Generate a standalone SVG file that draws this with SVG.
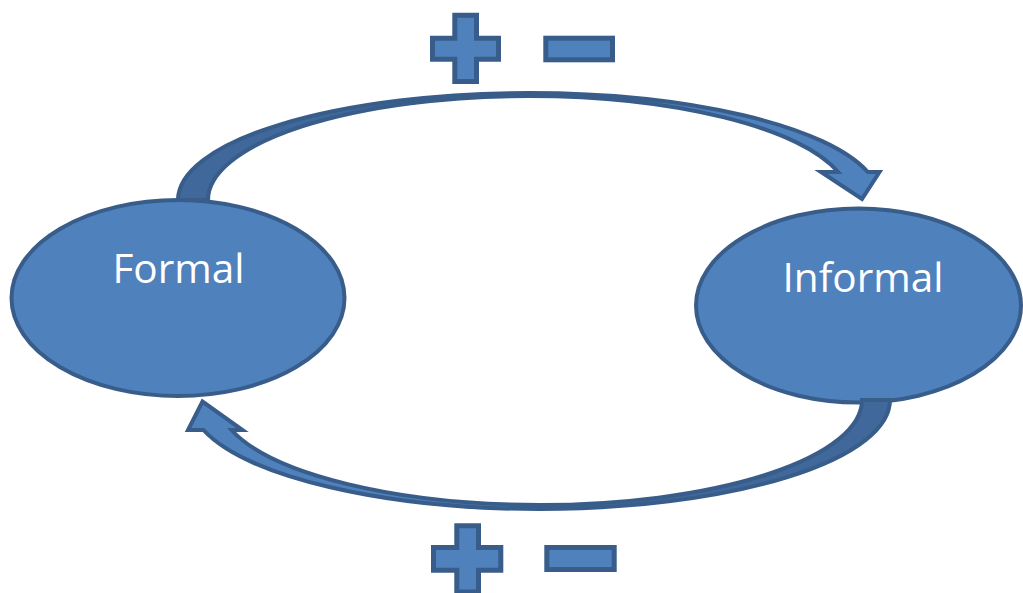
<svg xmlns="http://www.w3.org/2000/svg" width="1023" height="593" viewBox="0 0 1023 593">
  <style>
    .node { fill: #4F81BD; stroke: #385D8A; stroke-width: 4; }
    .back { fill: #40689A; stroke: #385D8A; stroke-width: 4; stroke-linejoin: miter; }
    .front { fill: #4F81BD; stroke: #385D8A; stroke-width: 4; stroke-linejoin: miter; }
    .sign { fill: #4F81BD; stroke: #385D8A; stroke-width: 5; }
    .label { font-family: "Open Sans", "Liberation Sans", sans-serif; font-size: 40.5px; fill: #FFFFFF; text-anchor: middle; }
  </style>
  <rect width="1023" height="593" fill="#FFFFFF"/>

  <g id="node-formal">
    <ellipse class="node" cx="178" cy="298" rx="166.5" ry="98"/>
    <text class="label" x="178.5" y="283">Formal</text>
  </g>

  <g id="node-informal">
    <ellipse class="node" cx="858.5" cy="305.5" rx="162.5" ry="97"/>
    <text class="label" x="863" y="291.5">Informal</text>
  </g>

  <g id="connectors">
    <g id="arrow-top">
      <path class="back" d="M 178,200 A 351 107 0 0 1 529,93 L 529,96 A 321 104 0 0 0 208,200 Z"/>
      <path class="front" d="M 529,93 A 351 107 0 0 1 867.8,172 L 879.5,172 L 862,199 L 821,172 L 838.1,172 A 321 104 0 0 0 529,96 Z"/>
    </g>
    <g id="arrow-bottom">
      <path class="back" d="M 890,400 A 350 109 0 0 1 540,509 L 540,505 A 322 105 0 0 0 862,400 Z"/>
      <path class="front" d="M 540,509 A 350 109 0 0 1 203.5,430 L 188,430 L 202.5,401.5 L 242.5,430 L 231.5,430 A 322 105 0 0 0 540,505 Z"/>
    </g>
  </g>

  <g id="signs-top">
    <polygon class="sign" points="454.8,15.2 476.5,15.2 476.5,38.2 498.5,38.2 498.5,59.2 476.5,59.2 476.5,81.5 454.8,81.5 454.8,59.2 432.5,59.2 432.5,38.2 454.8,38.2"/>
    <rect class="sign" x="545.8" y="38.2" width="66.7" height="21.6"/>
  </g>

  <g id="signs-bottom">
    <polygon class="sign" points="456.8,525.8 478.5,525.8 478.5,547.5 500.8,547.5 500.8,570.2 478.5,570.2 478.5,591.9 456.8,591.9 456.8,570.2 433.5,570.2 433.5,547.5 456.8,547.5"/>
    <rect class="sign" x="546.8" y="547.5" width="67.4" height="22"/>
  </g>
</svg>
